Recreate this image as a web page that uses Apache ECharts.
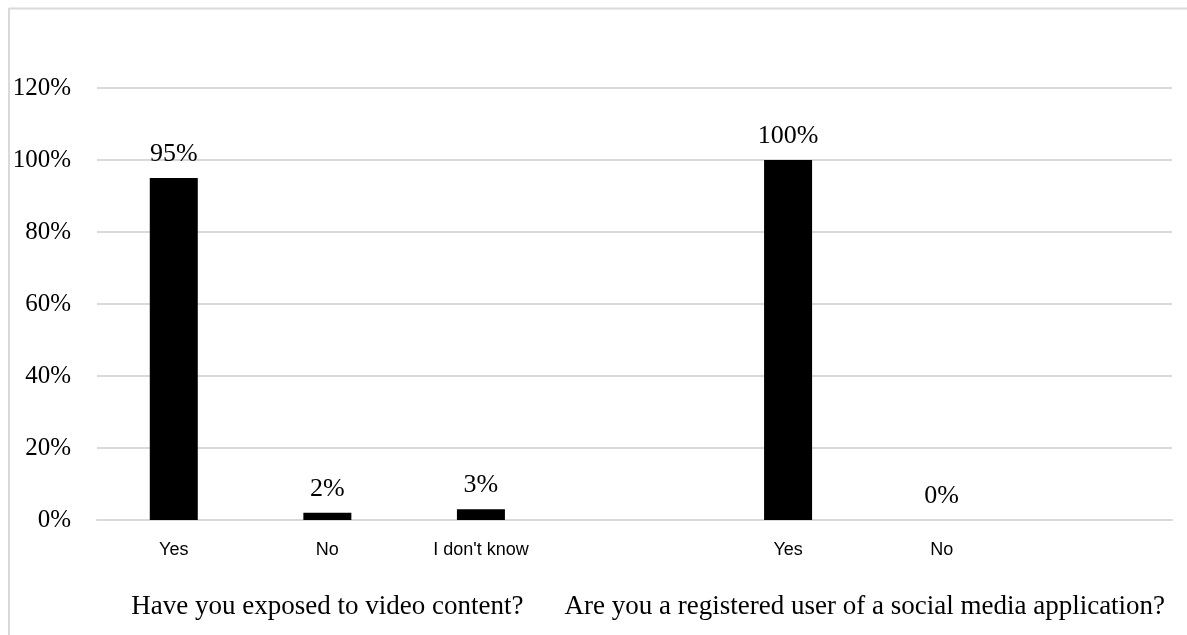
<!DOCTYPE html>
<html>
<head>
<meta charset="utf-8">
<script src="https://cdn.jsdelivr.net/npm/echarts@6/dist/echarts.min.js"></script>
<style>
  html, body { margin: 0; padding: 0; background: #fff; }
  #chart { width: 1187px; height: 635px; }
</style>
</head>
<body>
<div id="chart"></div>
<script>
// Answer options, one slot each; empty slots separate the two questions
const categories = ['Yes', 'No', "I don't know", '', 'Yes', 'No', ''];
// Share of respondents (%) per answer
const values = [95, 2, 3, null, 100, 0, null];
// Question labels and the answer slots they cover
const groupLabels = ['Have you exposed to video content?', 'Are you a registered user of a social media application?'];
const groupFrom = [0, 3];
const groupTo = [2, 6];
// Percentage axis ticks
const yTicks = [0, 20, 40, 60, 80, 100, 120];

const serif = '"Liberation Serif", "Times New Roman", serif';
const sans = '"Liberation Sans", Arial, sans-serif';

const chart = echarts.init(document.getElementById('chart'), null, { renderer: 'canvas' });

chart.setOption({
  animation: false,
  backgroundColor: '#fff',
  grid: { left: 97, right: 15, top: 88, bottom: 115, containLabel: false },
  xAxis: {
    type: 'category',
    data: categories,
    axisLine: { show: true, lineStyle: { color: '#d9d9d9', width: 2 } },
    axisTick: { show: false },
    axisLabel: { interval: 0, margin: 21, color: '#000', fontFamily: sans, fontSize: 18 }
  },
  yAxis: {
    type: 'value',
    min: yTicks[0],
    max: yTicks[yTicks.length - 1],
    interval: yTicks[1] - yTicks[0],
    axisLine: { show: false },
    axisTick: { show: false },
    axisLabel: { formatter: '{value}%', margin: 26, color: '#000', fontFamily: serif, fontSize: 25 },
    splitLine: { lineStyle: { color: '#d9d9d9', width: 2 } }
  },
  series: [{
    type: 'bar',
    data: values,
    barWidth: 48,
    itemStyle: { color: '#000' },
    label: {
      show: true,
      position: 'top',
      distance: 11,
      formatter: p => (p.value == null ? '' : p.value + '%'),
      color: '#000',
      fontFamily: serif,
      fontSize: 26
    }
  }]
});

// Question labels centred under their answer slots, plus the frame lines
const graphics = [
  { type: 'line', shape: { x1: 9, y1: 8.5, x2: 1187, y2: 8.5 }, style: { stroke: '#d9d9d9', lineWidth: 2 } },
  { type: 'line', shape: { x1: 9, y1: 8, x2: 9, y2: 635 }, style: { stroke: '#d9d9d9', lineWidth: 2 } }
];
groupLabels.forEach((text, i) => {
  const a = chart.convertToPixel({ xAxisIndex: 0 }, groupFrom[i]);
  const b = chart.convertToPixel({ xAxisIndex: 0 }, groupTo[i]);
  graphics.push({
    type: 'text',
    x: (a + b) / 2,
    y: 607,
    style: {
      text: text,
      fill: '#000',
      font: '27px ' + serif,
      align: 'center',
      verticalAlign: 'middle'
    }
  });
});
chart.setOption({ graphic: graphics });
</script>
</body>
</html>
